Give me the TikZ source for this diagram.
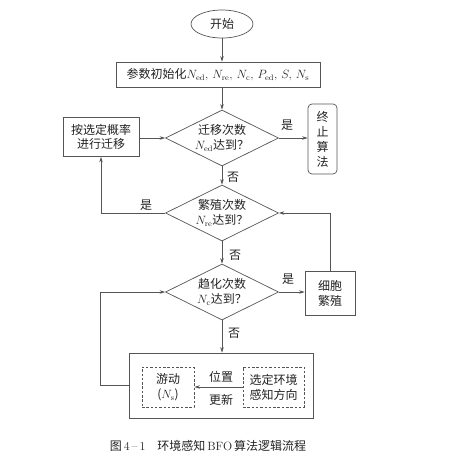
\documentclass[tikz,border=0pt]{standalone}
\usepackage{fontspec}
\newfontfamily\cjk{Noto Sans CJK SC}
\usetikzlibrary{shapes.geometric,arrows.meta}
\definecolor{linegray}{HTML}{555555}
\definecolor{textgray}{HTML}{222222}
\begin{document}
\begin{tikzpicture}[x=1pt,y=-1pt,
  line/.style={draw=linegray, line width=0.7pt},
  arr/.style={line, -{Stealth[length=5.5pt,width=3.5pt]}},
  txt/.style={font=\cjk\fontsize{12}{15}\selectfont, text=textgray},
  boxn/.style={line, txt, rectangle, inner sep=0pt, align=center},
  dashbox/.style={boxn, dashed, dash pattern=on 2.5pt off 1.8pt},
  dia/.style={line, txt, diamond, aspect=2, inner sep=0pt, minimum width=113pt, minimum height=56pt, align=center},
  lab/.style={txt, inner sep=0pt},
]
\useasboundingbox (0,0) rectangle (468,472);
\node[line, txt, ellipse, minimum width=62pt, minimum height=28pt, inner sep=0pt] (start) at (222,24) {开始};
\node[boxn, minimum width=204pt, minimum height=25pt] (init) at (218,74.5) {参数初始化$N_{\mathrm{ed}},\,N_{\mathrm{re}},\,N_{\mathrm{c}},\,P_{\mathrm{ed}},\,S,\,N_{\mathrm{s}}$};
\node[dia] (d1) at (222,138) {迁移次数\\$N_{\mathrm{ed}}$达到？};
\node[boxn, minimum width=76pt, minimum height=39pt, font=\cjk\fontsize{12}{14}\selectfont] (mig) at (101,137) {按选定概率\\进行迁移};
\node[boxn, rounded corners=4pt, minimum width=29pt, minimum height=70pt] (term) at (322.5,139) {终\\止\\算\\法};
\node[dia] (d2) at (222,213) {繁殖次数\\$N_{\mathrm{re}}$达到？};
\node[dia] (d3) at (222,292) {趋化次数\\$N_{\mathrm{c}}$达到？};
\node[boxn, minimum width=50pt, minimum height=44pt] (cell) at (330,293) {细胞\\繁殖};
\node[boxn, minimum width=184pt, minimum height=65pt] (big) at (221,385.5) {};
\node[dashbox, minimum width=52pt, minimum height=40pt] (swim) at (168,387) {游动\\($N_{\mathrm{s}}$)};
\node[dashbox, minimum width=61pt, minimum height=40pt] (sel) at (273.5,387) {选定环境\\感知方向};
\coordinate (loop) at (100,385.5);

\draw[arr] (start.south) -- (start.south |- init.north);
\draw[arr] (init.south -| d1.north) -- (d1.north);
\draw[arr] (d1.east) -- (d1.east -| term.west);
\draw[arr] (mig.east |- d1.west) -- (d1.west);
\draw[arr] (d1.south) -- (d2.north);
\draw[arr] (d2.west) -| (mig.south);
\draw[arr] (d2.south) -- (d3.north);
\draw[arr] (d3.east) -- (d3.east -| cell.west);
\draw[arr] (cell.north) |- (d2.east);
\draw[arr] (d3.south) -- (d3.south |- big.north);
\draw[arr] (big.west) -- (loop) |- (d3.west);
\draw[arr] (sel.west) -- (swim.east);

\node[lab] (y1) at (287,125) {是};
\node[lab] (n1) at (233,177) {否};
\node[lab] (y2) at (146,205) {是};
\node[lab] (n2) at (235,255) {否};
\node[lab] (y3) at (288,279) {是};
\node[lab] (n3) at (234,333) {否};
\node[lab] (pos) at (221,377) {位置};
\node[lab] (upd) at (221,400) {更新};
\node[txt, inner sep=0pt, font=\fontsize{12}{14}\selectfont] (cap) at (208,446) {{\cjk 图}\,4\,–\,1\quad{\cjk 环境感知}\,BFO\,{\cjk 算法逻辑流程}};
\end{tikzpicture}
\end{document}
